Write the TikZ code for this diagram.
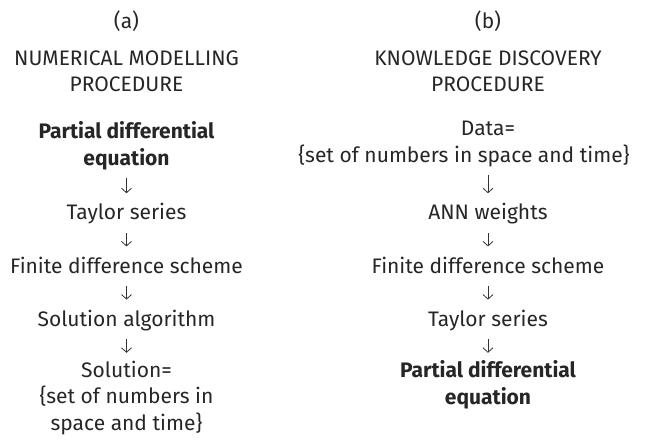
\documentclass[tikz,border=0pt]{standalone}
\usepackage{fontspec}
\setmainfont{Fira Sans}
\usetikzlibrary{arrows.meta, positioning}
\newcommand\rowstrut{\vrule height 18.6pt depth 8pt width 0pt}
\tikzset{
	stage/.style={font=\fontsize{21}{26.6}\selectfont, align=center, inner sep=0pt,
		outer sep=0pt, anchor=north, text=black!85,
		execute at begin node=\rowstrut, execute at end node=\rowstrut},
	pde/.style={stage, font=\fontsize{21}{26.6}\selectfont\bfseries},
	flow/.style={draw=black!80, line width=0.8pt,
		-{Straight Barb[length=4.5pt, width=10pt]}, shorten <=5pt, shorten >=8pt}
}

\begin{document}
\begin{tikzpicture}[x=1pt, y=-1pt]
			\useasboundingbox (0,0) rectangle (657,440);
			% Numerical modelling (left)
			\node[stage] (A-tag) at (126.5,9.4) {(a)};
			\node[stage] (A-head) at (126.5,50.4) {NUMERICAL MODELLING\\PROCEDURE};
			\node[pde] (A-1) at (126.5,121.4) {Partial differential\\equation};
			\node[stage] (A-2) at (126.5,201.2) {Taylor series};
			\node[stage] (A-3) at (126.5,254.4) {Finite difference scheme};
			\node[stage] (A-4) at (126.5,307.6) {Solution algorithm};
			\node[stage] (A-5) at (126.5,360.8) {Solution=\\\{set of numbers in\\space and time\}};
			
			% Knowledge discovery (right)
			\node[stage] (B-tag) at (488,9.4) {(b)};
			\node[stage] (B-head) at (488,50.4) {KNOWLEDGE DISCOVERY\\PROCEDURE};
			\node[stage] (B-1) at (488,121.4) {Data=\\\hspace*{-48pt}\{set of numbers in space and time\}};
			\node[stage] (B-2) at (488,201.2) {ANN weights};
			\node[stage] (B-3) at (488,254.4) {Finite difference scheme};
			\node[stage] (B-4) at (488,307.6) {Taylor series};
			\node[pde] (B-5) at (488,360.8) {Partial differential\\equation};
			
			% Arrows
			\foreach \c in {A,B}
			\foreach \i/\j in {1/2,2/3,3/4,4/5}
			\draw[flow] (\c-\i) -- (\c-\j);
\end{tikzpicture}
\end{document}
